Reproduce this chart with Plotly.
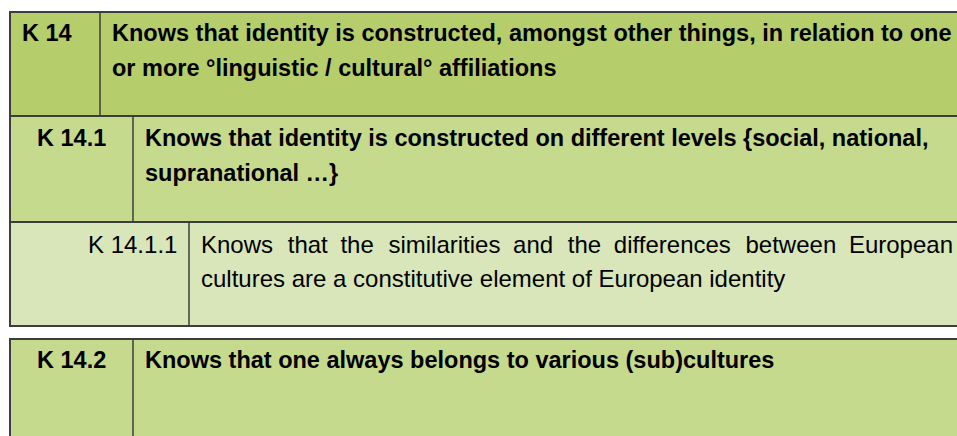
import plotly.graph_objects as go

# ---- table content ----
codes = ["K 14", "K 14.1", "K 14.1.1", "K 14.2"]
descriptions = [
    ["Knows that identity is constructed, amongst other things, in relation to one",
     "or more °linguistic / cultural° affiliations"],
    ["Knows that identity is constructed on different levels {social, national,",
     "supranational …}"],
    ["Knows that the similarities and the differences between European",
     "cultures are a constitutive element of European identity"],
    ["Knows that one always belongs to various (sub)cultures"],
]
justified_first_line = [False, False, True, False]

# ---- layout / style spec (pixels) ----
W, H = 957, 436
table_left = 10
table_right = 1000          # table continues past the right edge
row_tops = [12, 116, 222, 339]
row_bottoms = [116, 222, 326, 470]
code_col_right = [100, 133, 189, 133]
row_fills = ["#b5ce6b", "#c6da8e", "#d9e6b9", "#c6da8e"]
code_align = ["left", "center", "right", "center"]
bold_rows = [True, True, False, True]
first_baseline = [29.5, 30.5, 31, 29]
line_gap = 34.5
pad = 12
bold_size = 23.5
regular_size = 24
font_family = "Liberation Sans, Arial, sans-serif"
border = "#3d3d3d"
# widened word gaps used to imitate justified text
wide_gaps = ["\u00a0\u2004", "\u00a0\u2005"]

shapes = []
annotations = []

def text_y(baseline, size):
    return baseline - 0.36 * size

def justify(line):
    words = line.split(" ")
    out = words[0]
    for k, w in enumerate(words[1:]):
        out += wide_gaps[k % 2] + w
    return out

for i, code in enumerate(codes):
    top, bot, div = row_tops[i], row_bottoms[i], code_col_right[i]
    shapes.append(dict(type="rect", xref="x", yref="y", x0=table_left, x1=table_right,
                       y0=top, y1=bot, fillcolor=row_fills[i],
                       line=dict(color=border, width=2), layer="below"))
    shapes.append(dict(type="line", xref="x", yref="y", x0=div, x1=div, y0=top, y1=bot,
                       line=dict(color=border, width=1.5)))
    size = bold_size if bold_rows[i] else regular_size
    weight = "bold" if bold_rows[i] else "normal"
    fnt = dict(family=font_family, size=size, color="#000000", weight=weight)
    base = top + first_baseline[i]
    if code_align[i] == "left":
        cx, anc = table_left + pad, "left"
    elif code_align[i] == "right":
        cx, anc = div - pad, "right"
    else:
        cx, anc = (table_left + div) / 2, "center"
    annotations.append(dict(x=cx, y=text_y(base, size), xref="x", yref="y", text=code,
                            showarrow=False, xanchor=anc, yanchor="middle",
                            font=fnt, borderpad=0, borderwidth=0))
    for j, line in enumerate(descriptions[i]):
        txt = line
        if justified_first_line[i] and j < len(descriptions[i]) - 1:
            txt = justify(line)
        annotations.append(dict(x=div + pad, y=text_y(base + j * line_gap, size),
                                xref="x", yref="y", text=txt, showarrow=False,
                                xanchor="left", yanchor="middle",
                                font=fnt, borderpad=0, borderwidth=0))

fig = go.Figure()
fig.update_layout(
    width=W, height=H, margin=dict(l=0, r=0, t=0, b=0),
    paper_bgcolor="white", plot_bgcolor="white",
    xaxis=dict(range=[0, W], visible=False, fixedrange=True),
    yaxis=dict(range=[H, 0], visible=False, fixedrange=True),
    shapes=shapes, annotations=annotations, showlegend=False,
)
fig.write_html("out.html", config={"displayModeBar": False},
               post_script="document.body.style.margin='0';document.body.style.overflow='hidden';")
